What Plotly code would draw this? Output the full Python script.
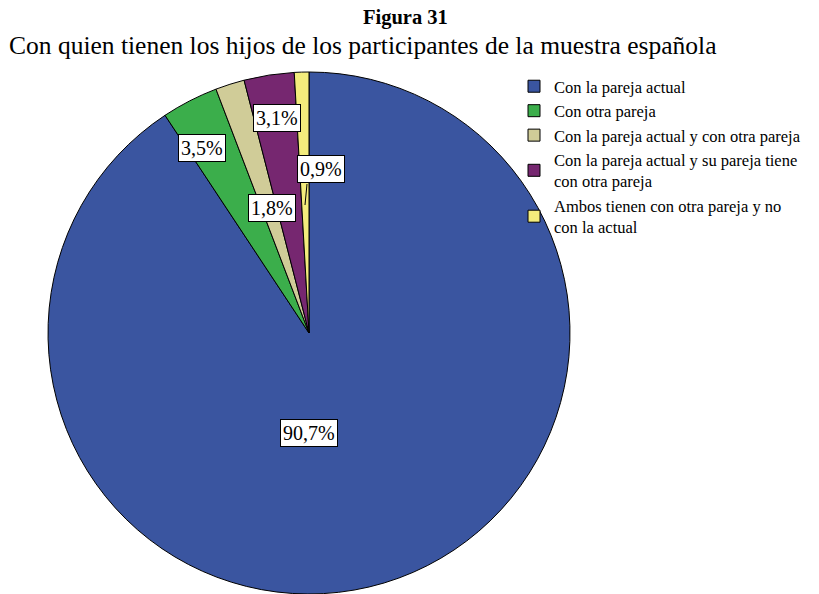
import plotly.graph_objects as go

# ---- data ----
categories = [
    "Con la pareja actual",
    "Con otra pareja",
    "Con la pareja actual y con otra pareja",
    "Con la pareja actual y su pareja tiene<br>con otra pareja",
    "Ambos tienen con otra pareja y no<br>con la actual",
]
percentages = [90.7, 3.5, 1.8, 3.1, 0.9]
value_labels = ["90,7%", "3,5%", "1,8%", "3,1%", "0,9%"]
title_text = "Figura 31"
subtitle_text = "Con quien tienen los hijos de los participantes de la muestra española"

# ---- style ----
colors = ["#3A55A0", "#3BAE4B", "#D0CC98", "#762770", "#F3EC7C"]
W, H = 819, 594
FONT = "Liberation Serif"

# pie geometry in pixels (center x, radius) -> domain
cx, R = 309, 261
dom_x = [(cx - R) / W, (cx + R) / W]
dom_y = [0, 2 * R / H]

# label positions in pixels (layout only)
label_px = [(309, 433), (202, 148), (272, 208), (277, 118), (321, 169)]

fig = go.Figure(go.Pie(
    labels=categories,
    values=percentages,
    sort=False,
    direction="clockwise",
    rotation=0,
    marker=dict(colors=colors, line=dict(color="black", width=1)),
    textinfo="none",
    hoverinfo="label+percent",
    domain=dict(x=dom_x, y=dom_y),
))

annotations = [
    dict(text=f"<b>{title_text}</b>", x=405 / W, y=1 - 17 / H, xref="paper", yref="paper",
         xanchor="center", yanchor="middle", showarrow=False,
         font=dict(family=FONT, size=20.5, color="black")),
    dict(text=subtitle_text, x=362 / W, y=1 - 45 / H, xref="paper", yref="paper",
         xanchor="center", yanchor="middle", showarrow=False,
         font=dict(family=FONT, size=25.5, color="black")),
]
for txt, (px, py) in zip(value_labels, label_px):
    annotations.append(dict(
        text=txt, x=px / W, y=1 - py / H, xref="paper", yref="paper",
        xanchor="center", yanchor="middle", showarrow=False,
        bgcolor="white", bordercolor="black", borderwidth=1, borderpad=2,
        font=dict(family=FONT, size=20, color="black"),
    ))

# leader line for the small yellow slice label
fig.add_shape(type="line", xref="paper", yref="paper",
              x0=307 / W, y0=1 - 184 / H, x1=305 / W, y1=1 - 205 / H,
              line=dict(color="black", width=1))

fig.update_layout(
    width=W, height=H,
    margin=dict(l=0, r=0, t=0, b=0),
    paper_bgcolor="white",
    plot_bgcolor="white",
    annotations=annotations,
    showlegend=True,
    legend=dict(
        x=514 / W, y=1 - 69 / H, xanchor="left", yanchor="top",
        font=dict(family=FONT, size=16.5, color="black"),
        bgcolor="rgba(0,0,0,0)",
        tracegroupgap=0,
        itemclick=False, itemdoubleclick=False,
    ),
)

fig.write_html("out.html", config={"displayModeBar": False},
               post_script="document.body.style.margin='0';")
